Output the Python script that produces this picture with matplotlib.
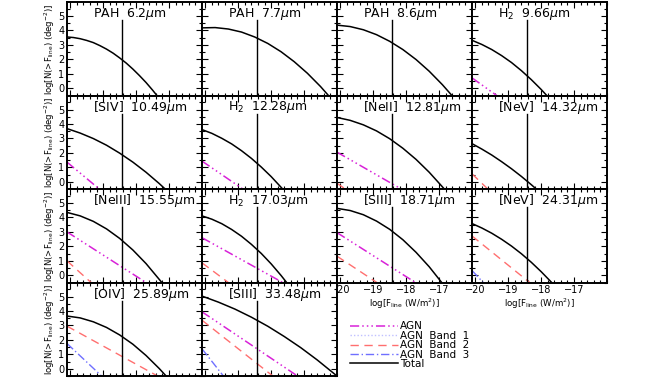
import matplotlib
matplotlib.use('Agg')
import matplotlib.pyplot as plt
from matplotlib.lines import Line2D
from matplotlib.ticker import MultipleLocator

# panel titles, in reading order
titles = ['PAH  6.2$\\mu$m', 'PAH  7.7$\\mu$m', 'PAH  8.6$\\mu$m', 'H$_2$  9.66$\\mu$m',
          '[SIV]  10.49$\\mu$m', 'H$_2$  12.28$\\mu$m', '[NeII]  12.81$\\mu$m', '[NeV]  14.32$\\mu$m',
          '[NeIII]  15.55$\\mu$m', 'H$_2$  17.03$\\mu$m', '[SIII]  18.71$\\mu$m', '[NeV]  24.31$\\mu$m',
          '[OIV]  25.89$\\mu$m', '[SIII]  33.48$\\mu$m']

# Total counts, log N(>F) vs log F
total_x = [
    [-20.1, -19.9, -19.7, -19.5, -19.3, -19.1, -18.9, -18.7, -18.5, -18.3, -18.1, -17.9, -17.7, -17.5, -17.37],
    [-20.1, -19.7, -19.3, -18.9, -18.5, -18.1, -17.7, -17.3, -16.9, -16.5, -16.26],
    [-20.1, -19.7, -19.3, -18.9, -18.5, -18.1, -17.7, -17.3, -16.9, -16.61],
    [-20.1, -19.8, -19.5, -19.2, -18.9, -18.6, -18.3, -18.0, -17.83],
    [-20.1, -19.7, -19.3, -18.9, -18.5, -18.1, -17.7, -17.3, -17.12],
    [-20.1, -19.8, -19.5, -19.2, -18.9, -18.6, -18.3, -18.0, -17.65],
    [-20.1, -19.7, -19.3, -18.9, -18.5, -18.1, -17.7, -17.3, -16.84],
    [-20.1, -19.8, -19.5, -19.2, -18.9, -18.6, -18.3, -18.15],
    [-20.1, -19.7, -19.3, -18.9, -18.5, -18.1, -17.7, -17.22],
    [-20.1, -19.8, -19.5, -19.2, -18.9, -18.6, -18.3, -18.0, -17.7, -17.53],
    [-20.1, -19.7, -19.3, -18.9, -18.5, -18.1, -17.7, -17.3, -16.92],
    [-20.1, -19.8, -19.5, -19.2, -18.9, -18.6, -18.3, -18.0, -17.68],
    [-20.1, -19.7, -19.3, -18.9, -18.5, -18.1, -17.7, -17.3, -17.09],
    [-20.1, -19.6, -19.1, -18.6, -18.1, -17.6, -17.1, -16.6, -16.0],
]
total_y = [
    [3.55, 3.51, 3.43, 3.31, 3.16, 2.95, 2.71, 2.43, 2.10, 1.74, 1.33, 0.88, 0.40, -0.13, -0.5],
    [4.18, 4.20, 4.10, 3.89, 3.55, 3.10, 2.53, 1.84, 1.04, 0.12, -0.5],
    [4.37, 4.27, 4.05, 3.71, 3.25, 2.68, 1.99, 1.18, 0.25, -0.5],
    [3.32, 3.03, 2.68, 2.26, 1.78, 1.22, 0.60, -0.08, -0.5],
    [3.68, 3.37, 2.99, 2.53, 1.98, 1.36, 0.66, -0.12, -0.5],
    [3.61, 3.35, 3.01, 2.62, 2.15, 1.62, 1.02, 0.36, -0.5],
    [4.45, 4.25, 3.94, 3.52, 2.98, 2.32, 1.55, 0.66, -0.5],
    [2.64, 2.26, 1.85, 1.39, 0.90, 0.37, -0.20, -0.5],
    [4.35, 4.11, 3.73, 3.21, 2.55, 1.75, 0.81, -0.5],
    [4.11, 3.88, 3.57, 3.17, 2.70, 2.14, 1.51, 0.79, -0.01, -0.5],
    [4.63, 4.48, 4.19, 3.75, 3.18, 2.46, 1.59, 0.59, -0.5],
    [3.58, 3.27, 2.91, 2.49, 2.02, 1.49, 0.90, 0.25, -0.5],
    [3.65, 3.52, 3.25, 2.86, 2.34, 1.70, 0.92, 0.02, -0.5],
    [5.03, 4.61, 4.13, 3.57, 2.94, 2.23, 1.46, 0.61, -0.5],
]

# AGN components: panel index -> (x ends, y ends)
agn = {3: ([-20.1, -19.35], [0.72, -0.5]),
       4: ([-20.1, -19.12], [1.36, -0.5]),
       5: ([-20.1, -18.86], [1.43, -0.5]),
       6: ([-20.1, -18.15], [2.05, -0.5]),
       8: ([-20.1, -17.7], [3.0, -0.5]),
       9: ([-20.1, -17.65], [2.6, -0.5]),
       10: ([-20.1, -17.72], [2.95, -0.5]),
       13: ([-20.1, -17.2], [3.94, -0.5])}
agn_band2 = {6: ([-20.1, -19.85], [-0.1, -0.5]),
             7: ([-20.1, -19.62], [0.55, -0.5]),
             8: ([-20.1, -19.37], [1.0, -0.5]),
             9: ([-20.1, -19.3], [0.86, -0.5]),
             10: ([-20.1, -18.89], [1.32, -0.5]),
             11: ([-20.1, -18.35], [2.72, -0.5]),
             12: ([-20.1, -17.35], [2.95, -0.5]),
             13: ([-20.1, -17.95], [3.36, -0.5])}
agn_band3 = {11: ([-20.1, -19.76], [0.33, -0.5]),
             12: ([-20.1, -19.05], [1.75, -0.5]),
             13: ([-20.1, -19.45], [1.38, -0.5])}

flux_limit = -18.43
xticks = [-20, -19, -18, -17]
xticklabels = ['\u221220', '\u221219', '\u221218', '\u221217']

c_agn = '#d822d8'
c_b1 = '#c0c0ff'
c_b2 = '#ff6f6f'
c_b3 = '#6f6fff'
ls_agn = (0, (6, 2, 1, 2, 1, 2, 1, 2))
ls_b1 = (0, (1, 1.5))
ls_b2 = (0, (6, 4))
ls_b3 = (0, (6, 2, 1, 2))

W, H = 658, 379
fig = plt.figure(figsize=(W / 100, H / 100), dpi=100)

lefts = [67, 202, 337, 472]
tops = [2, 95.5, 189, 282.5]
pw, ph = 135, 93.5

ylab = 'log[N(>F$_{\\rm line}$) (deg$^{-2}$)]'
xlab = 'log[F$_{\\rm line}$ (W/m$^2$)]'

for i, title in enumerate(titles):
    r, c = divmod(i, 4)
    ax = fig.add_axes([lefts[c] / W, (H - tops[r] - ph) / H, pw / W, ph / H])
    ax.set_xlim(-20.1, -16.0)
    ax.set_ylim(-0.5, 5.97)
    ax.plot(total_x[i], total_y[i], color='black', lw=1.1)
    if i in agn:
        ax.plot(*agn[i], color=c_agn, lw=1.1, ls=ls_agn)
    if i in agn_band2:
        ax.plot(*agn_band2[i], color=c_b2, lw=1.0, ls=ls_b2)
    if i in agn_band3:
        ax.plot(*agn_band3[i], color=c_b3, lw=1.0, ls=ls_b3)
    ax.plot([flux_limit, flux_limit], [-0.5, 4.72], color='black', lw=1.0)
    ax.text(0.19, 0.877, title, transform=ax.transAxes, fontsize=9, va='center', ha='left')

    ax.set_xticks(xticks)
    ax.set_yticks(range(6))
    ax.xaxis.set_minor_locator(MultipleLocator(0.2))
    ax.yaxis.set_minor_locator(MultipleLocator(0.5))
    ax.tick_params(which='both', direction='in', top=True, right=True, labelsize=7, width=0.8, pad=2)
    ax.tick_params(which='major', length=4)
    ax.tick_params(which='minor', length=2)
    for s in ax.spines.values():
        s.set_linewidth(1.4)
    if c == 0:
        ax.set_ylabel(ylab, fontsize=6.1, labelpad=1)
    else:
        ax.set_yticklabels([])
    if i in (10, 11):
        ax.set_xticklabels(xticklabels)
        ax.set_xlabel(xlab, fontsize=6.2, labelpad=1)
    else:
        ax.set_xticklabels([])

handles = [Line2D([], [], color=c_agn, lw=1.1, ls=ls_agn),
           Line2D([], [], color=c_b1, lw=1.0, ls=ls_b1),
           Line2D([], [], color=c_b2, lw=1.0, ls=ls_b2),
           Line2D([], [], color=c_b3, lw=1.0, ls=ls_b3),
           Line2D([], [], color='black', lw=1.1)]
labels = ['AGN', 'AGN  Band  1', 'AGN  Band  2', 'AGN  Band  3', 'Total']
fig.legend(handles, labels, loc='upper left', bbox_to_anchor=(345 / W, 1 - 316 / H),
           frameon=False, fontsize=7.5, handlelength=4.6, handletextpad=0.2,
           labelspacing=-0.05, borderpad=0)

fig.savefig('out.png', dpi=100)
